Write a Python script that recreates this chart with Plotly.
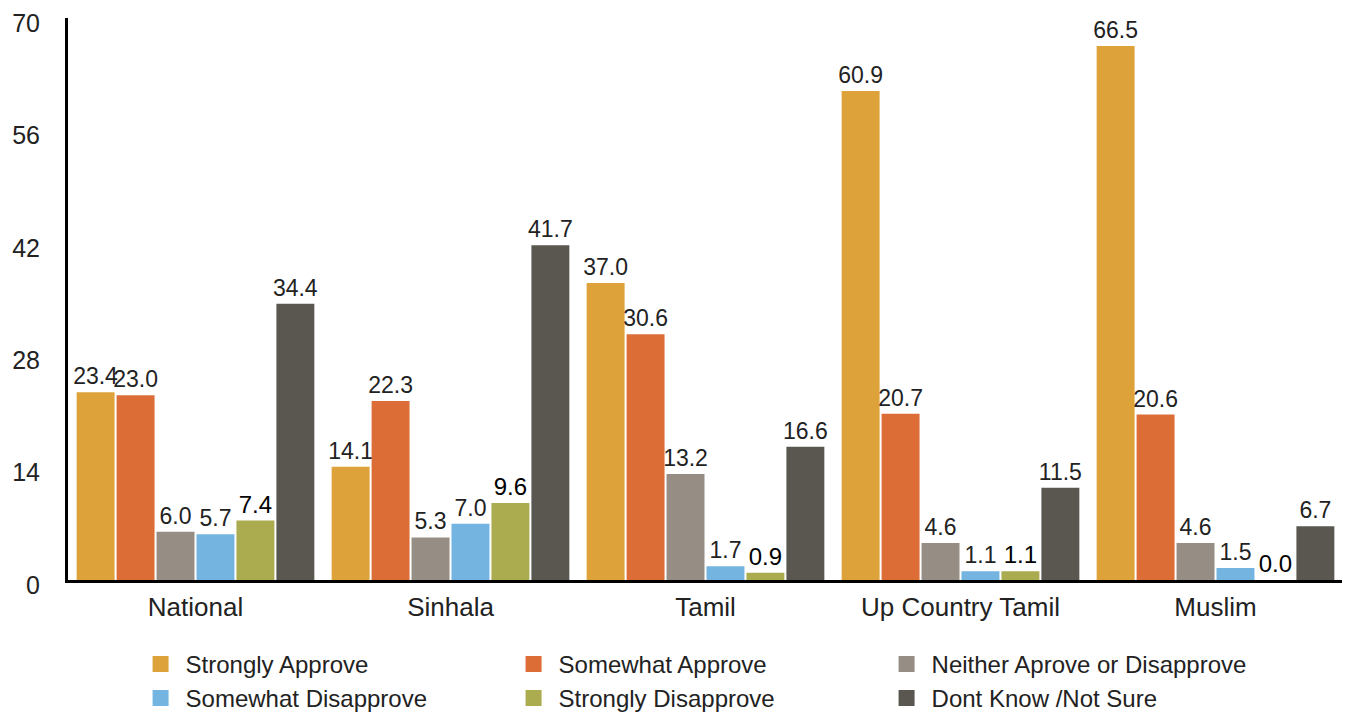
import plotly.graph_objects as go

categories = ["National", "Sinhala", "Tamil", "Up Country Tamil", "Muslim"]
series_names = ["Strongly Approve", "Somewhat Approve", "Neither Aprove or Disapprove",
                "Somewhat Disapprove", "Strongly Disapprove", "Dont Know /Not Sure"]
strongly_approve = [23.4, 14.1, 37.0, 60.9, 66.5]
somewhat_approve = [23.0, 22.3, 30.6, 20.7, 20.6]
neither = [6.0, 5.3, 13.2, 4.6, 4.6]
somewhat_disapprove = [5.7, 7.0, 1.7, 1.1, 1.5]
strongly_disapprove = [7.4, 9.6, 0.9, 1.1, 0.0]
dont_know = [34.4, 41.7, 16.6, 11.5, 6.7]
y_ticks = [0, 14, 28, 42, 56, 70]

values = [strongly_approve, somewhat_approve, neither, somewhat_disapprove, strongly_disapprove, dont_know]
colors = ["#DDA33A", "#DD6D37", "#968D84", "#74B4E0", "#ABAC50", "#5A5750"]

FONT = "Liberation Sans"
fig = go.Figure()
for name, vals, col in zip(series_names, values, colors):
    bold = name == "Strongly Disapprove"
    fig.add_trace(go.Bar(
        x=categories, y=vals, name=name, marker=dict(color=col, line=dict(width=0)),
        texttemplate="%{y:.1f}", textposition="outside", constraintext="none",
        cliponaxis=False, showlegend=False, legendgroup=name,
        textfont=dict(family=FONT, size=24 if bold else 23, color="#000" if bold else "#222"),
    ))
# legend-only entries with larger square swatches
for name, col in zip(series_names, colors):
    fig.add_trace(go.Scatter(
        x=[None], y=[None], mode="markers", name=name, legendgroup=name,
        marker=dict(symbol="square", size=16, color=col),
    ))

# page body has an 8px default margin, so the figure is sized to fit the window
fig.update_layout(
    width=1342, height=705,
    barmode="group", bargap=0.06, bargroupgap=0.05,
    margin=dict(l=60, r=7, t=10, b=133, autoexpand=False),
    plot_bgcolor="white", paper_bgcolor="white",
    font=dict(family=FONT, size=24, color="#222"),
    showlegend=True,
    legend=dict(orientation="h", x=0.053, xanchor="left", y=-0.110, yanchor="top",
                entrywidth=318, entrywidthmode="pixels", itemwidth=40,
                font=dict(family=FONT, size=24, color="#222"), traceorder="normal"),
    xaxis=dict(showline=True, linecolor="black", linewidth=3, ticks="", showgrid=False,
               tickfont=dict(size=26), ticklabelstandoff=2, automargin=False),
    yaxis=dict(range=[0, 70], tickvals=y_ticks, showline=True, linecolor="black", linewidth=3,
               showgrid=False, zeroline=False, ticks="", tickfont=dict(size=25),
               ticklabelstandoff=20, ticklabelshift=5, ticklabeloverflow="allow",
               automargin=False),
)

fig.write_html("out.html")
